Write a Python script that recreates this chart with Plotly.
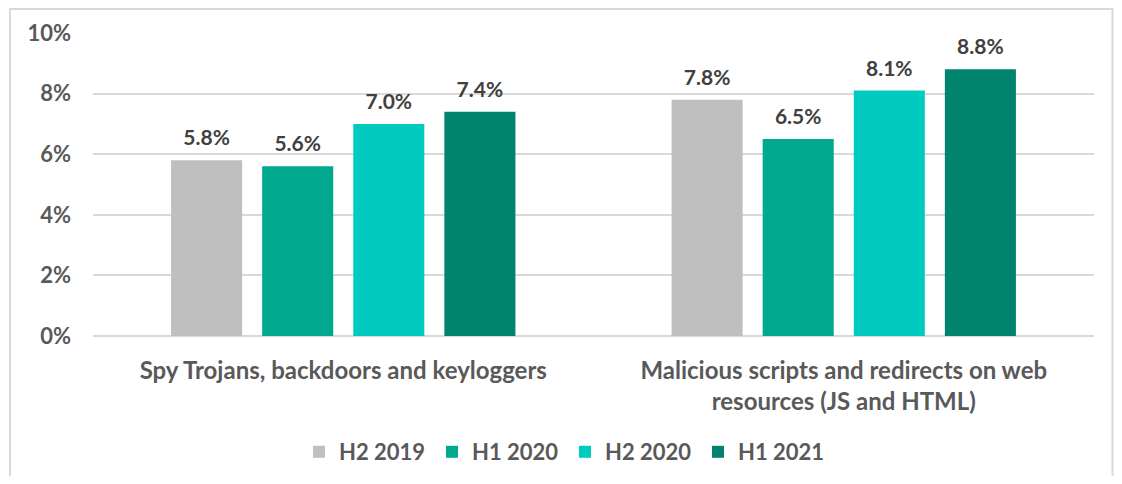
import plotly.graph_objects as go

categories = ["Spy Trojans, backdoors and keyloggers",
              "Malicious scripts and redirects on web<br>resources (JS and HTML)"]
series_names = ["H2 2019", "H1 2020", "H2 2020", "H1 2021"]
values = {
    "H2 2019": [5.8, 7.8],
    "H1 2020": [5.6, 6.5],
    "H2 2020": [7.0, 8.1],
    "H1 2021": [7.4, 8.8],
}
colors = ["#BFBFBF", "#00A88E", "#00CBBE", "#00836F"]
y_ticks = [0, 2, 4, 6, 8, 10]
y_tick_labels = ["0%", "2%", "4%", "6%", "8%", "10%"]

FONT = "Lato, 'Open Sans', sans-serif"

fig = go.Figure()
for name, col in zip(series_names, colors):
    fig.add_trace(go.Bar(
        name=name, x=categories, y=values[name],
        marker=dict(color=col, line=dict(width=0)),
        hoverinfo="skip",
    ))
# value labels, grouped like the bars, lifted a little above each bar
for name in series_names:
    fig.add_trace(go.Scatter(
        x=categories, y=values[name], mode="markers+text",
        text=[f"{v:.1f}%" for v in values[name]],
        textposition="top center", cliponaxis=False,
        marker=dict(size=14, opacity=0),
        textfont=dict(family=FONT, size=21, color="#404040", weight="bold"),
        showlegend=False, hoverinfo="skip",
    ))

OFF = 8  # page body margin
W, H = 1122 - 2 * OFF, 484 - 2 * OFF
L, T = 93 - OFF, 33 - OFF
R = W - (1094 - OFF)
B = H - (336 - OFF)
pw, ph = W - L - R, H - T - B

def px(x):
    return (x - OFF - L) / pw

def py(y):
    return (H - B - (y - OFF)) / ph

fig.update_layout(
    width=W, height=H,
    margin=dict(l=L, r=R, t=T, b=B, autoexpand=False),
    paper_bgcolor="white", plot_bgcolor="white",
    barmode="group", bargap=0.272, bargroupgap=0.22,
    scattermode="group", scattergap=0.272,
    font=dict(family=FONT, color="#595959"),
    showlegend=True,
    legend=dict(orientation="h", x=px(299), xanchor="left", y=py(452), yanchor="middle",
                font=dict(family=FONT, size=22, color="#595959", weight="bold"),
                itemwidth=30, traceorder="normal", itemclick=False,
                entrywidth=88, bgcolor="rgba(0,0,0,0)"),
    xaxis=dict(showgrid=False, showline=False, ticks="",
               tickfont=dict(family=FONT, size=24, color="#595959", weight="bold"),
               ticklabelstandoff=18, fixedrange=True),
    yaxis=dict(range=[0, 10], tickvals=y_ticks, ticktext=y_tick_labels,
               showgrid=True, gridcolor="#D9D9D9", gridwidth=1.5,
               zeroline=True, zerolinecolor="#D9D9D9", zerolinewidth=1.5,
               showline=False, ticks="",
               tickfont=dict(family=FONT, size=22, color="#595959", weight="bold"),
               ticklabelstandoff=21, fixedrange=True),
    shapes=[dict(type="rect", xref="paper", yref="paper",
                 x0=px(10), x1=px(1112.5), y0=py(520), y1=py(9),
                 line=dict(color="#D9D9D9", width=2), layer="below")],
)

fig.write_html("out.html")
